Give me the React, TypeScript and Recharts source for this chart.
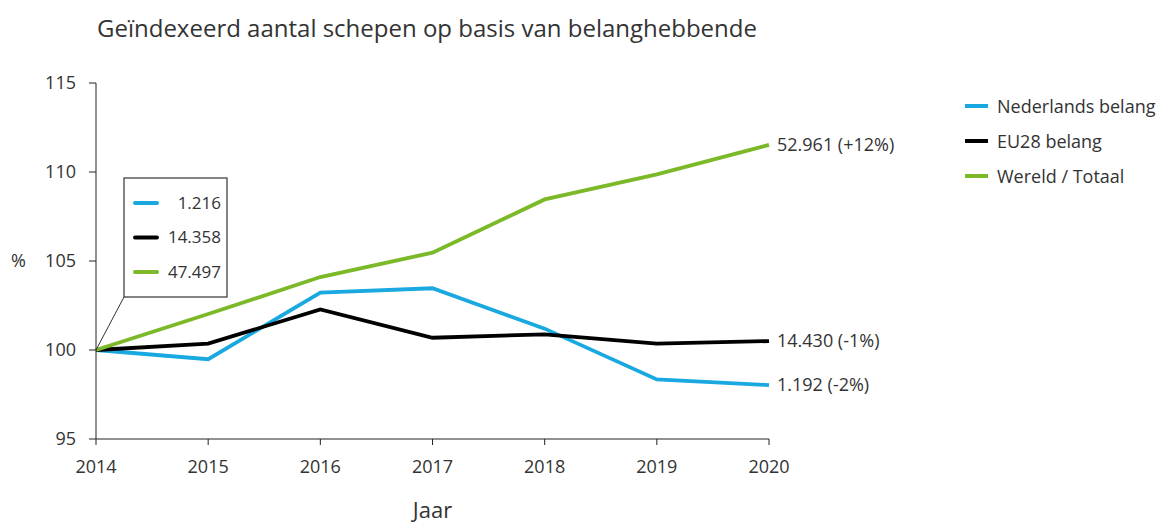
import React from 'react'
import {
  LineChart,
  Line,
  XAxis,
  YAxis,
  ReferenceDot,
} from 'recharts'

const YEARS = [2014, 2015, 2016, 2017, 2018, 2019, 2020]
const NL = [100, 99.48, 103.22, 103.47, 101.2, 98.35, 98.03]
const EU = [100, 100.36, 102.28, 100.69, 100.88, 100.36, 100.5]
const WORLD = [100, 102.02, 104.1, 105.47, 108.46, 109.87, 111.52]

const SERIES_NAMES = ['Nederlands belang', 'EU28 belang', 'Wereld / Totaal']
const START_LABELS = ['1.216', '14.358', '47.497']
const END_LABELS = ['1.192 (-2%)', '14.430 (-1%)', '52.961 (+12%)']
const Y_TICKS = [95, 100, 105, 110, 115]

const COLORS = ['#1AA8E0', '#000000', '#7CB929']
const KEYS = ['nl', 'eu', 'world']
const FONT = '"Open Sans", "Noto Sans", sans-serif'
const TEXT = '#333333'

const data = YEARS.map((year, i) => ({
  year,
  nl: NL[i],
  eu: EU[i],
  world: WORLD[i],
}))

const endLabel = (idx: number) => (props: any) => {
  const { x, y, index } = props
  if (index !== YEARS.length - 1) return null
  return (
    <text
      x={x + 8}
      y={y}
      dy="0.35em"
      fontSize={18}
      fontFamily={FONT}
      fill={TEXT}
    >
      {END_LABELS[idx]}
    </text>
  )
}

// boxed callout with absolute 2014 values
const CalloutShape = (props: any) => {
  const { cx, cy } = props
  const bx = cx + 28
  const by = cy - 172
  const bw = 103
  const bh = 119
  return (
    <g>
      <line x1={cx} y1={cy} x2={bx} y2={by + bh} stroke="#333" strokeWidth={1} />
      <rect x={bx} y={by} width={bw} height={bh} fill="#fff" stroke="#333" strokeWidth={1.2} />
      {START_LABELS.map((lbl, i) => {
        const ly = by + 25 + i * 34.5
        return (
          <g key={lbl}>
            <line x1={bx + 11} x2={bx + 33} y1={ly} y2={ly} stroke={COLORS[i]} strokeWidth={4} strokeLinecap="round" />
            <text
              x={bx + bw - 6}
              y={ly}
              dy="0.35em"
              textAnchor="end"
              fontSize={17}
              fontFamily={FONT}
              fill={TEXT}
            >
              {lbl}
            </text>
          </g>
        )
      })}
    </g>
  )
}

function SeriesLegend() {
  return (
    <div
      style={{
        position: 'absolute',
        left: 965,
        top: 88,
        fontFamily: FONT,
        fontSize: 18,
        color: TEXT,
        whiteSpace: 'nowrap',
      }}
    >
      {SERIES_NAMES.map((name, i) => (
        <div key={name} style={{ display: 'flex', alignItems: 'center', height: 35 }}>
          <span
            style={{
              width: 23,
              height: 4,
              background: COLORS[i],
              display: 'inline-block',
              marginRight: 9,
            }}
          />
          {name}
        </div>
      ))}
    </div>
  )
}

export default function App() {
  return (
    <div
      style={{
        position: 'absolute',
        left: 0,
        top: 0,
        width: 1161,
        height: 526,
        background: '#fff',
      }}
    >
      <div
        style={{
          position: 'absolute',
          left: 97,
          top: 11,
          fontFamily: FONT,
          fontSize: 24,
          color: TEXT,
          whiteSpace: 'nowrap',
        }}
      >
        Geïndexeerd aantal schepen op basis van belanghebbende
      </div>
      <LineChart
        width={1161}
        height={526}
        data={data}
        margin={{ top: 83, right: 392, bottom: 0, left: 0 }}
      >
        <XAxis
          dataKey="year"
          type="number"
          domain={[2014, 2020]}
          ticks={YEARS}
          height={87}
          tickSize={6}
          tickMargin={15}
          stroke="#222"
          tick={{ fill: TEXT, fontSize: 18, fontFamily: FONT }}
          label={{
            value: 'Jaar',
            position: 'insideBottom',
            offset: 8,
            fill: TEXT,
            fontSize: 22,
            fontFamily: FONT,
          }}
        />
        <YAxis
          type="number"
          domain={[95, 115]}
          ticks={Y_TICKS}
          width={96}
          tickSize={7}
          tickMargin={13}
          stroke="#222"
          tick={{ fill: TEXT, fontSize: 18, fontFamily: FONT }}
          label={{
            value: '%',
            position: 'insideLeft',
            offset: 11,
            fill: TEXT,
            fontSize: 18,
            fontFamily: FONT,
          }}
        />
        {KEYS.map((k, i) => (
          <Line
            key={k}
            dataKey={k}
            name={SERIES_NAMES[i]}
            stroke={COLORS[i]}
            strokeWidth={3.8}
            dot={false}
            activeDot={false}
            label={endLabel(i)}
            isAnimationActive={false}
          />
        ))}
        <ReferenceDot x={2014} y={100} shape={CalloutShape} />
      </LineChart>
      <SeriesLegend />
    </div>
  )
}
